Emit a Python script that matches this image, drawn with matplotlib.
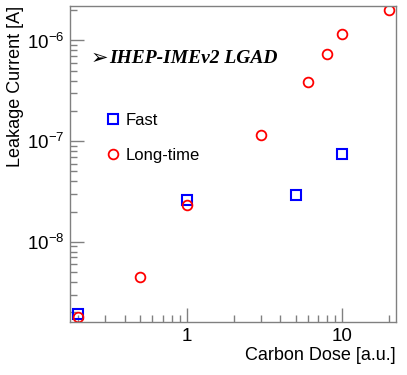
import matplotlib
matplotlib.use("Agg")
import matplotlib.pyplot as plt
from matplotlib.ticker import LogLocator, NullFormatter, FixedLocator, FixedFormatter

# Data
dose_fast = [0.2, 1, 5, 10]
current_fast = [1.9e-9, 2.6e-8, 2.93e-8, 7.5e-8]

dose_long = [0.2, 0.5, 1, 3, 6, 8, 10, 20]
current_long = [1.8e-9, 4.5e-9, 2.3e-8, 1.15e-7, 3.85e-7, 7.35e-7, 1.15e-6, 2.0e-6]

plt.rcParams["font.family"] = ["Liberation Sans", "DejaVu Sans"]
plt.rcParams["mathtext.fontset"] = "custom"
plt.rcParams["mathtext.rm"] = "Liberation Sans"

fig = plt.figure(figsize=(4.07, 3.75), dpi=100)
ax = fig.add_axes([70 / 407, 1 - 322 / 375, (395.7 - 70) / 407, (322 - 6) / 375])

ax.plot(dose_fast, current_fast, linestyle="none", marker="s", markersize=7,
        markerfacecolor="none", markeredgecolor="blue", markeredgewidth=1.5, label="Fast")
ax.plot(dose_long, current_long, linestyle="none", marker="o", markersize=7,
        markerfacecolor="none", markeredgecolor="red", markeredgewidth=1.3, label="Long-time")

ax.set_xscale("log")
ax.set_yscale("log")
ax.set_xlim(0.178, 22)
ax.set_ylim(1.6e-9, 2.2e-6)

grey = "#808080"
for s in ax.spines.values():
    s.set_color(grey)
    s.set_linewidth(1.0)

ax.xaxis.set_major_locator(FixedLocator([1, 10]))
ax.xaxis.set_major_formatter(FixedFormatter(["1", "10"]))
ax.xaxis.set_minor_locator(LogLocator(base=10, subs=range(2, 10)))
ax.xaxis.set_minor_formatter(NullFormatter())
ax.yaxis.set_major_locator(LogLocator(base=10))
ax.yaxis.set_minor_locator(LogLocator(base=10, subs=range(2, 10)))
ax.yaxis.set_minor_formatter(NullFormatter())

ax.tick_params(which="both", direction="in", color=grey, top=False, right=False,
               labelsize=13.5, width=1.0)
ax.tick_params(which="major", length=10, pad=4)
ax.tick_params(which="minor", length=5)

ax.set_xlabel("Carbon Dose [a.u.]", fontsize=13, loc="right", labelpad=2)
ax.set_ylabel("Leakage Current [A]", fontsize=13, loc="top", labelpad=2)

ax.text(0.065, 0.835, "\u27a2", transform=ax.transAxes, fontsize=15,
        family="DejaVu Sans", weight="bold", va="center")
ax.text(0.12, 0.835, "IHEP-IMEv2 LGAD", transform=ax.transAxes, fontsize=14,
        family="Liberation Serif", weight="bold", style="italic", va="center")

ax.legend(loc="upper left", bbox_to_anchor=(0.055, 0.71), frameon=False,
          fontsize=12, labelspacing=1.2, handletextpad=0.15, handlelength=1.2)

fig.savefig("out.png", dpi=100)
